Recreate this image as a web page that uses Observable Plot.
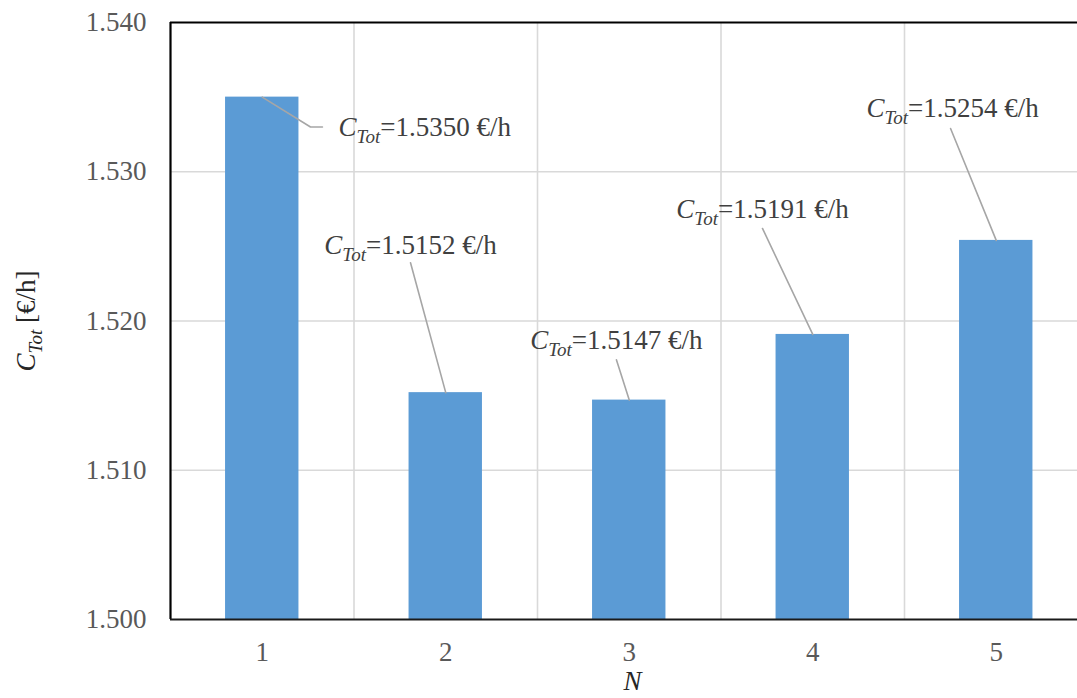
<!DOCTYPE html>
<html>
<head>
<meta charset="utf-8">
<script src="https://cdn.jsdelivr.net/npm/d3@7"></script>
<script src="https://cdn.jsdelivr.net/npm/@observablehq/plot@0.6"></script>
<style>
  html, body { margin: 0; padding: 0; background: #fff; }
  #chart svg { display: block; }
</style>
</head>
<body>
<div id="chart"></div>
<script>
// ---- data ----
const N = [1, 2, 3, 4, 5];
const cTot = [1.5350, 1.5152, 1.5147, 1.5191, 1.5254];
const yTicks = [1.500, 1.510, 1.520, 1.530, 1.540];
const xTicks = [1, 2, 3, 4, 5];
const categoryBounds = [1.5, 2.5, 3.5, 4.5];
// annotation anchors (data units: N, €/h)
const labelN = [1.416, 1.808, 2.930, 3.726, 4.762];
const labelValue = [1.5324, 1.5245, 1.5181, 1.5269, 1.5337];
const labelAlign = ["start", "middle", "middle", "middle", "middle"];
const leaderPoints = [
  [[1.263, 1.5330], [1.328, 1.5330]],
  [[1.808, 1.5239]],
  [[2.930, 1.5174]],
  [[3.726, 1.5262]],
  [[4.751, 1.5329]]
];

const bars = N.map((n, i) => ({N: n, value: cTot[i]}));
const labels = N.map((n, i) => ({
  x: labelN[i], y: labelValue[i], align: labelAlign[i],
  text: "CTot=" + cTot[i].toFixed(4) + " €/h"
}));
const leaders = [];
N.forEach((n, i) => {
  leaders.push({k: i, x: n, y: cTot[i]});
  leaderPoints[i].forEach(p => leaders.push({k: i, x: p[0], y: p[1]}));
});

const font = "Liberation Serif, Times New Roman, serif";
const halfBar = 0.2;

const labelMark = align => Plot.text(labels.filter(d => d.align === align), {
  x: "x", y: "y", text: "text", textAnchor: align,
  lineAnchor: "bottom", fontSize: 27, fill: "#404040"
});

const chart = Plot.plot({
  width: 1077,
  height: 698,
  marginTop: 22,
  marginBottom: 79,
  marginLeft: 170,
  marginRight: 0,
  style: {fontFamily: font, fontSize: "27px", background: "#fff", overflow: "hidden"},
  x: {domain: [0.5, 5.5], range: [170, 1087.5]},
  y: {domain: [1.5, 1.54], range: [619, 22]},
  marks: [
    Plot.gridY([1.51, 1.52, 1.53], {stroke: "#d9d9d9", strokeOpacity: 1, strokeWidth: 1.6}),
    Plot.gridX(categoryBounds, {stroke: "#d9d9d9", strokeOpacity: 1, strokeWidth: 1.6}),
    Plot.rect(bars, {
      x1: d => d.N - halfBar, x2: d => d.N + halfBar,
      y1: 1.5, y2: "value", fill: "#5b9bd5"
    }),
    Plot.ruleX([0.5], {stroke: "#000", strokeWidth: 2.2}),
    Plot.ruleY([1.54], {stroke: "#000", strokeWidth: 2.2}),
    Plot.ruleY([1.5], {stroke: "#1a1a1a", strokeWidth: 2.2}),
    Plot.axisY({ticks: yTicks, tickFormat: d3.format(".3f"), tickSize: 0, tickPadding: 24,
      fontSize: 27, fill: "#595959", label: null}),
    Plot.axisX({ticks: xTicks, tickFormat: d => String(d), tickSize: 0, tickPadding: 22,
      fontSize: 27, fill: "#595959", label: null}),
    Plot.line(leaders, {x: "x", y: "y", z: "k", stroke: "#a6a6a6", strokeWidth: 1.6}),
    labelMark("start"),
    labelMark("middle"),
    Plot.text(["CTot [€/h]"], {frameAnchor: "left", dx: -144, rotate: -90,
      lineAnchor: "middle", textAnchor: "middle", fontSize: 27, fill: "#262626"}),
    Plot.text(["N"], {frameAnchor: "bottom", dx: 8.5, dy: 70, lineAnchor: "bottom",
      fontSize: 27, fontStyle: "italic", fill: "#262626"})
  ]
});

document.getElementById("chart").appendChild(chart);

// italic C with italic subscript "Tot"
const ns = "http://www.w3.org/2000/svg";
chart.querySelectorAll("text").forEach(t => {
  if (t.querySelector("tspan")) return;
  const s = t.textContent;
  const m = s.match(/^C(Tot)(.*)$/);
  if (!m) return;
  t.textContent = "";
  const a = document.createElementNS(ns, "tspan");
  a.setAttribute("font-style", "italic");
  a.textContent = "C";
  const b = document.createElementNS(ns, "tspan");
  b.setAttribute("font-style", "italic");
  b.setAttribute("font-size", "19px");
  b.setAttribute("dy", "7");
  b.textContent = m[1];
  const c = document.createElementNS(ns, "tspan");
  c.setAttribute("dy", "-7");
  c.textContent = m[2];
  t.appendChild(a); t.appendChild(b); t.appendChild(c);
});
</script>
</body>
</html>
